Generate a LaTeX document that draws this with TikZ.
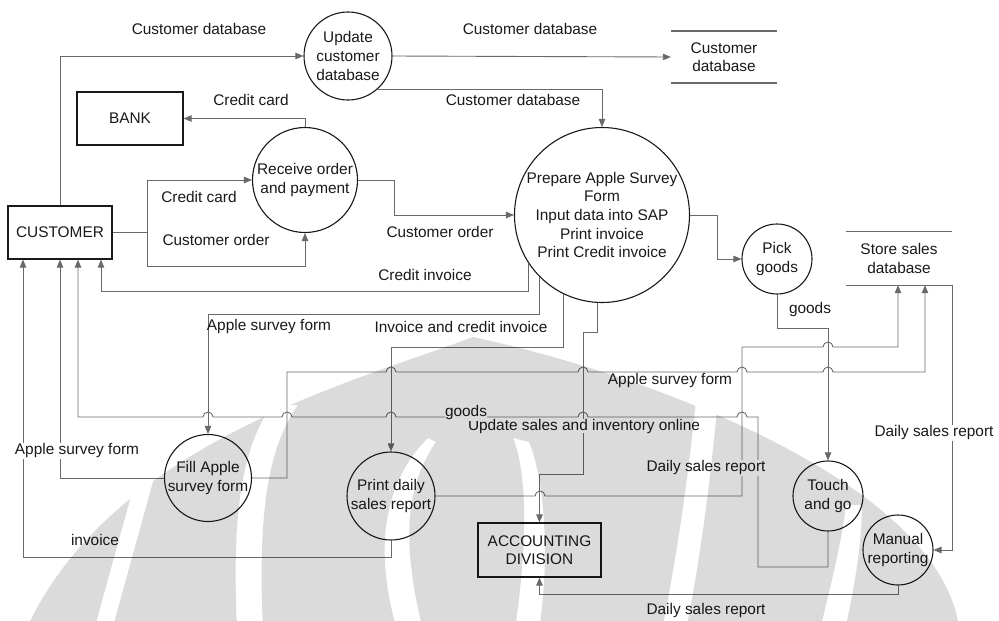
\documentclass[tikz,border=0pt]{standalone}
\usepackage{fontspec}
\setmainfont{Liberation Sans}
\usetikzlibrary{arrows.meta,calc}
\definecolor{wire}{RGB}{105,105,105}
\definecolor{ink}{RGB}{25,25,25}

\begin{document}
\begin{tikzpicture}[x=1pt,y=-1pt,
  every node/.style={font=\fontsize{15.4}{18.6}\selectfont, text=ink},
  proc/.style={draw=ink, line width=1.1pt, circle, inner sep=0pt, align=center},
  entity/.style={draw=ink, line width=1.2pt, rectangle, inner sep=0pt, align=center},
  datastore/.style={inner sep=0pt, align=center, minimum width=106pt},
  storeline/.style={draw=wire, line width=#1},
  flow/.style={draw=wire, line width=0.9pt, -{Triangle[length=8pt,width=6.5pt]}},
  wireline/.style={draw=wire, line width=0.9pt},
  lbl/.style={inner sep=1pt},
  lblw/.style={inner sep=0.5pt, fill=white},
]
\useasboundingbox (0,0) rectangle (999,621);

% ---------- external entities ----------
\node[entity, minimum width=104pt, minimum height=53pt] (cust) at (60,232.5) {CUSTOMER};
\node[entity, minimum width=106pt, minimum height=53pt] (bank) at (130,118.5) {BANK};
\node[entity, minimum width=123pt, minimum height=54pt] (acc) at (539.5,550) {ACCOUNTING\\DIVISION};

% ---------- processes ----------
\node[proc, minimum size=88pt]  (upd)   at (348,56)  {Update\\customer\\database};
\node[proc, minimum size=105pt] (recv)  at (305,180) {Receive order\\and payment};
\node[proc, minimum size=175pt] (prep)  at (602,215) {Prepare Apple Survey\\Form\\Input data into SAP\\Print invoice\\Print Credit invoice};
\node[proc, minimum size=70pt]  (pick)  at (777,259) {Pick\\goods};
\node[proc, minimum size=87pt]  (fill)  at (208,478) {Fill Apple\\survey form};
\node[proc, minimum size=88pt]  (print) at (391,496) {Print daily\\sales report};
\node[proc, minimum size=70pt]  (touch) at (828,496) {Touch\\and go};
\node[proc, minimum size=70pt]  (man)   at (898,550) {Manual\\reporting};

% ---------- data stores ----------
\node[datastore, minimum height=52pt] (cdb) at (724,57) {Customer\\database};
\draw[storeline=2.2pt] (cdb.north west) -- (cdb.north east) (cdb.south west) -- (cdb.south east);
\node[datastore, minimum height=53pt] (sdb) at (899,258.5) {Store sales\\database};
\draw[storeline=1.3pt] (sdb.north west) -- (sdb.north east) (sdb.south west) -- (sdb.south east);

% ---------- arrival points ----------
\coordinate (in1) at ([xshift=-37pt]cust.south);
\coordinate (in2) at (cust.south);
\coordinate (in3) at ([xshift=18pt]cust.south);
\coordinate (in4) at ([xshift=41pt]cust.south);
\coordinate (sin1) at ([xshift=-1pt]sdb.south);
\coordinate (sin2) at ([xshift=26pt]sdb.south);

% ---------- flows ----------
\draw[flow] (cust.north) |- (upd.west);
\draw[flow] (upd.east) -- (cdb.west);
\draw[flow] (upd.311) -| (prep.north);
\draw[flow] (recv.north) |- (bank.east);
\draw[wireline] (cust.east) -- ++(35,0) coordinate (fork);
\draw[flow] (fork) |- (recv.west);
\draw[flow] (fork) |- (recv.south |- 0,266) -- (recv.south);
\draw[flow] (recv.east) -- ++(36,0) |- (prep.west);
\draw[flow] (prep.east) -- ++(27,0) |- (pick.west);
\draw[flow] (prep.213) |- (in4 |- 0,291) -- (in4);
\draw[flow] (prep.225) |- (fill.north |- 0,314) -- (fill.north);
\draw[flow] (prep.244) |- (print.north |- 0,347) -- (print.north);
\draw[flow] (prep.267) |- (583,332) |- (acc.north |- 0,474) -- (acc.north);
\draw[flow] (pick.south) |- (touch.north |- 0,328) -- (touch.north);
\draw[flow] (fill.west) -| (in2);
\draw[flow] (print.south) |- (in1 |- 0,557) -- (in1);
% goods back to the customer, hopping over the crossings
\draw[flow] (touch.south) |- (758,567) -- (758,417)
  -- (747,417) arc[start angle=0,end angle=180,radius=5pt]
  -- (588,417) arc[start angle=0,end angle=180,radius=5pt]
  -- (396,417) arc[start angle=0,end angle=180,radius=5pt]
  -- (292,417) arc[start angle=0,end angle=180,radius=5pt]
  -- (213,417) arc[start angle=0,end angle=180,radius=5pt]
  -- (in3 |- 0,417) -- (in3);
% survey form into the store sales database
\draw[flow] (fill.east) -| (287,372)
  -- (386,372) arc[start angle=180,end angle=0,radius=5pt]
  -- (578,372) arc[start angle=180,end angle=0,radius=5pt]
  -- (737,372) arc[start angle=180,end angle=0,radius=5pt]
  -- (823,372) arc[start angle=180,end angle=0,radius=5pt]
  -- (sin2 |- 0,372) -- (sin2);
% daily sales report into the store sales database
\draw[flow] (print.east)
  -- (535,496) arc[start angle=180,end angle=0,radius=5pt]
  -- (742,496) -- (742,347)
  -- (823,347) arc[start angle=180,end angle=0,radius=5pt]
  -- (sin1 |- 0,347) -- (sin1);
\draw[flow] (sdb.south east) |- (man.east);
\draw[flow] (man.south) |- (acc.south |- 0,594) -- (acc.south);

% ---------- flow labels ----------
\node[lbl] (t1)  at (199,29)  {Customer database};
\node[lbl] (t2)  at (530,29)  {Customer database};
\node[lbl] (t3)  at (513,100) {Customer database};
\node[lbl] (t4)  at (251,100) {Credit card};
\node[lbl] (t5)  at (199,197) {Credit card};
\node[lbl] (t6)  at (216,240) {Customer order};
\node[lbl] (t7)  at (440,232) {Customer order};
\node[lbl] (t8)  at (425,275) {Credit invoice};
\node[lbl] (t9)  at (269,327) {Apple survey form};
\node[lbl] (t10) at (461,327) {Invoice and credit invoice};
\node[lbl] (t11) at (810,310) {goods};
\node[lbl] (t12) at (670,381) {Apple survey form};
\node[lblw, anchor=base, inner sep=0pt] (t13) at (584,430) {Update sales and inventory online};
\node[lblw] (t14) at (466,413) {goods};
\node[lblw] (t15) at (77,451)  {Apple survey form};
\node[lblw] (t16) at (706,468) {Daily sales report};
\node[lblw] (t17) at (934,433) {Daily sales report};
\node[lbl] (t18) at (95,540)  {invoice};
\node[lbl] (t19) at (706,611) {Daily sales report};

% ---------- faint emblem printed over the lower part ----------
\begin{scope}
  \clip (473,337) .. controls (360,380) and (120,440) .. (30,621)
        -- (958,621) .. controls (930,480) and (650,375) .. cycle;
  \fill[black, fill opacity=0.14, even odd rule]
    (0,300) rectangle (999,640)
    (141,460) -- (94,630) -- (112,630) -- (159,460) -- cycle
    (272,405) .. controls (240,450) and (232,520) .. (237,630)
      -- (263,630) .. controls (258,520) and (266,450) .. (298,405) -- cycle
    (428,438) .. controls (395,470) and (368,530) .. (397,630)
      -- (423,630) .. controls (398,530) and (410,480) .. (436,442) -- cycle
    (513,438) .. controls (530,480) and (525,560) .. (515,630)
      -- (539,630) .. controls (550,560) and (545,480) .. (529,442) -- cycle
    (696,400) .. controls (690,460) and (680,540) .. (662,630)
      -- (686,630) .. controls (704,540) and (712,460) .. (718,400) -- cycle
    (846,505) .. controls (842,540) and (832,580) .. (820,630)
      -- (845,630) .. controls (856,580) and (862,540) .. (862,505) -- cycle;
\end{scope}
\end{tikzpicture}
\end{document}
